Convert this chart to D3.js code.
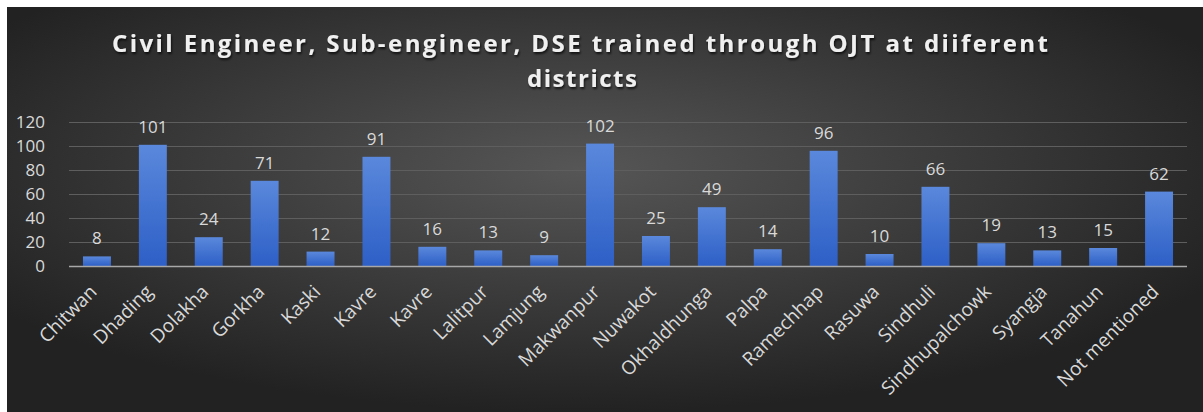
<!DOCTYPE html>
<html>
<head>
<meta charset="utf-8">
<script src="https://cdn.jsdelivr.net/npm/d3@7"></script>
<style>
  html, body { margin: 0; padding: 0; background: #ffffff; }
  svg { display: block; }
</style>
</head>
<body>
<div id="chart"></div>
<script>
var districts = ["Chitwan", "Dhading", "Dolakha", "Gorkha", "Kaski", "Kavre", "Kavre", "Lalitpur", "Lamjung",
    "Makwanpur", "Nuwakot", "Okhaldhunga", "Palpa", "Ramechhap", "Rasuwa", "Sindhuli", "Sindhupalchowk",
    "Syangja", "Tanahun", "Not mentioned"];
var trained = [8, 101, 24, 71, 12, 91, 16, 13, 9, 102, 25, 49, 14, 96, 10, 66, 19, 13, 15, 62];
var yTicks = [0, 20, 40, 60, 80, 100, 120];
var titleLines = ["Civil Engineer, Sub-engineer, DSE trained through OJT at diiferent", "districts"];

var width = 1203, height = 412;
var margin = { top: 122, right: 16, bottom: 146, left: 69 };

var svg = d3.select("#chart").append("svg")
    .attr("width", width)
    .attr("height", height);

var defs = svg.append("defs");
var bg = defs.append("radialGradient")
    .attr("id", "bg")
    .attr("cx", "48%").attr("cy", "40%").attr("r", "60%");
bg.append("stop").attr("offset", "0%").attr("stop-color", "#565656");
bg.append("stop").attr("offset", "100%").attr("stop-color", "#222222");

var barGrad = defs.append("linearGradient")
    .attr("id", "bar")
    .attr("x1", 0).attr("y1", 0).attr("x2", 0).attr("y2", 1);
barGrad.append("stop").attr("offset", "0%").attr("stop-color", "#5a88dc");
barGrad.append("stop").attr("offset", "100%").attr("stop-color", "#2d5fc6");

var shadow = defs.append("filter").attr("id", "shadow")
    .attr("x", "-5%").attr("y", "-20%").attr("width", "110%").attr("height", "160%");
shadow.append("feDropShadow")
    .attr("dx", 1).attr("dy", 2).attr("stdDeviation", 1.2)
    .attr("flood-color", "#000").attr("flood-opacity", 0.7);

// background with white strip on top/left like the screenshot
svg.append("rect")
    .attr("x", 7).attr("y", 7)
    .attr("width", width - 7).attr("height", height - 7)
    .attr("fill", "url(#bg)");

// title
var title = svg.append("g")
    .attr("font-family", "'Open Sans', sans-serif")
    .attr("font-weight", "bold")
    .attr("font-size", 24)
    .attr("fill", "#f0f0f0")
    .attr("text-anchor", "middle")
    .attr("filter", "url(#shadow)");
title.append("text")
    .attr("x", 580).attr("y", 52)
    .attr("textLength", 936)
    .attr("lengthAdjust", "spacing")
    .text(titleLines[0]);
title.append("text")
    .attr("x", 582).attr("y", 87)
    .attr("textLength", 110)
    .attr("lengthAdjust", "spacing")
    .text(titleLines[1]);

var x = d3.scaleBand()
    .domain(d3.range(districts.length))
    .range([margin.left, width - margin.right])
    .paddingInner(0.5)
    .paddingOuter(0.25);

var y = d3.scaleLinear()
    .domain([0, 120])
    .range([height - margin.bottom, margin.top]);

// gridlines
svg.append("g")
    .selectAll("line")
    .data(yTicks.slice(1))
    .enter().append("line")
    .attr("x1", margin.left)
    .attr("x2", width - margin.right)
    .attr("y1", function (d) { return Math.round(y(d)) + 0.5; })
    .attr("y2", function (d) { return Math.round(y(d)) + 0.5; })
    .attr("stroke", "#5e5e5e")
    .attr("stroke-width", 1);

// y axis labels
var yAxis = svg.append("g")
    .attr("transform", "translate(" + margin.left + ",0)")
    .call(d3.axisLeft(y).tickValues(yTicks).tickSize(0).tickPadding(24));
yAxis.select(".domain").remove();
yAxis.selectAll("text")
    .attr("font-family", "'Open Sans', sans-serif")
    .attr("font-size", 17)
    .attr("fill", "#d9d9d9");

// bars
svg.append("g")
    .selectAll("rect")
    .data(trained)
    .enter().append("rect")
    .attr("x", function (d, i) { return x(i); })
    .attr("y", function (d) { return y(d); })
    .attr("width", x.bandwidth())
    .attr("height", function (d) { return y(0) - y(d); })
    .attr("fill", "url(#bar)");

// baseline
svg.append("line")
    .attr("x1", margin.left)
    .attr("x2", width - margin.right)
    .attr("y1", y(0) + 0.5)
    .attr("y2", y(0) + 0.5)
    .attr("stroke", "#a8a8a8")
    .attr("stroke-width", 1.5);

// value labels
svg.append("g")
    .selectAll("text")
    .data(trained)
    .enter().append("text")
    .attr("x", function (d, i) { return x(i) + x.bandwidth() / 2; })
    .attr("y", function (d) { return y(d) - 12; })
    .attr("text-anchor", "middle")
    .attr("font-family", "'Open Sans', sans-serif")
    .attr("font-size", 17)
    .attr("fill", "#d9d9d9")
    .text(function (d) { return d; });

// category labels
svg.append("g")
    .selectAll("text")
    .data(districts)
    .enter().append("text")
    .attr("transform", function (d, i) {
        return "translate(" + (x(i) + x.bandwidth() / 2 + 1) + "," + (y(0) + 27) + ") rotate(-45)";
    })
    .attr("text-anchor", "end")
    .attr("font-family", "'Open Sans', sans-serif")
    .attr("font-size", 19)
    .attr("fill", "#d9d9d9")
    .text(function (d) { return d; });
</script>
</body>
</html>
